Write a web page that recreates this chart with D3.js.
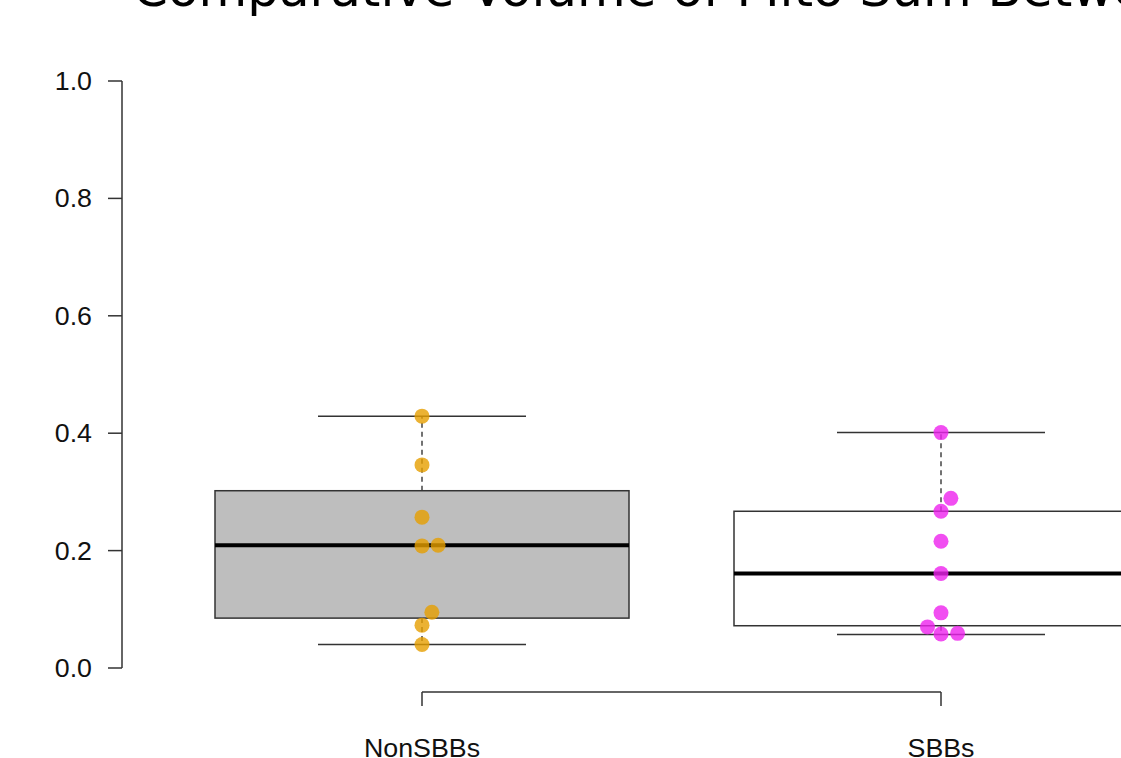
<!DOCTYPE html>
<html>
<head>
<meta charset="utf-8">
<script src="https://cdn.jsdelivr.net/npm/d3@7"></script>
<style>
  body { margin: 0; background: #fff; overflow: hidden; }
  svg { display: block; }
  .lab { font-family: "Liberation Sans", Arial, sans-serif; font-size: 26px; fill: #111; }
</style>
</head>
<body>
<div id="chart"></div>
<script>
// groups and their summary stats
var groups = ["NonSBBs", "SBBs"];
var boxFill = ["#bebebe", "#ffffff"];
var q1 = [0.085, 0.072];
var medians = [0.209, 0.161];
var q3 = [0.302, 0.267];
var whiskLow = [0.040, 0.057];
var whiskHigh = [0.429, 0.401];

// individual points: value and jittered x position (in group units)
var nonsbbVals = [0.429, 0.346, 0.257, 0.208, 0.209, 0.095, 0.073, 0.040];
var nonsbbPos  = [1.0, 1.0, 1.0, 1.0, 1.031, 1.019, 1.0, 1.0];
var sbbVals = [0.401, 0.289, 0.267, 0.216, 0.161, 0.094, 0.070, 0.058, 0.059];
var sbbPos  = [2.0, 2.019, 2.0, 2.0, 2.0, 2.0, 1.974, 2.0, 2.032];
var pointColors = ["#e69f00", "#ee22ee"];

var yTicks = [0, 0.2, 0.4, 0.6, 0.8, 1.0];
var title = "Comparative Volume of Mito Sum Between SBBs and NonSBBs";

var w = 1121, h = 758;

var svg = d3.select("#chart").append("svg")
  .attr("width", w)
  .attr("height", h);

var yScale = d3.scaleLinear().domain([0, 1]).range([668, 81]);
var xScale = d3.scaleLinear().domain([1, 2]).range([422, 941]);
var boxHalf = 207;   // px, half box width
var capHalf = 104;

// title, cut off at the top like the original
svg.append("text")
  .attr("x", 133)
  .attr("y", 6)
  .attr("font-family", "DejaVu Sans")
  .attr("font-size", 50)
  .attr("fill", "#000")
  .text(title);

// boxes
groups.forEach(function(g, i) {
  var cx = xScale(i + 1);
  // whiskers
  svg.append("line")
    .attr("x1", cx).attr("x2", cx)
    .attr("y1", yScale(q3[i])).attr("y2", yScale(whiskHigh[i]))
    .attr("stroke", "#444").attr("stroke-width", 1.5)
    .attr("stroke-dasharray", "5,4");
  svg.append("line")
    .attr("x1", cx).attr("x2", cx)
    .attr("y1", yScale(q1[i])).attr("y2", yScale(whiskLow[i]))
    .attr("stroke", "#444").attr("stroke-width", 1.5)
    .attr("stroke-dasharray", "5,4");
  [whiskHigh[i], whiskLow[i]].forEach(function(v) {
    svg.append("line")
      .attr("x1", cx - capHalf).attr("x2", cx + capHalf)
      .attr("y1", yScale(v)).attr("y2", yScale(v))
      .attr("stroke", "#333").attr("stroke-width", 1.5);
  });
  svg.append("rect")
    .attr("x", cx - boxHalf)
    .attr("y", yScale(q3[i]))
    .attr("width", boxHalf * 2)
    .attr("height", yScale(q1[i]) - yScale(q3[i]))
    .attr("fill", boxFill[i])
    .attr("stroke", "#333").attr("stroke-width", 1.5);
  svg.append("line")
    .attr("x1", cx - boxHalf).attr("x2", cx + boxHalf)
    .attr("y1", yScale(medians[i])).attr("y2", yScale(medians[i]))
    .attr("stroke", "#000").attr("stroke-width", 4);
});

// points
function drawPoints(vals, pos, col) {
  svg.append("g").selectAll("circle")
    .data(vals)
    .enter().append("circle")
    .attr("cx", function(d, j) { return xScale(pos[j]); })
    .attr("cy", function(d) { return yScale(d); })
    .attr("r", 7.5)
    .attr("fill", col)
    .attr("fill-opacity", 0.8);
}
drawPoints(nonsbbVals, nonsbbPos, pointColors[0]);
drawPoints(sbbVals, sbbPos, pointColors[1]);

// y axis
var yAxis = svg.append("g").attr("transform", "translate(122,0)");
yAxis.append("line")
  .attr("x1", 0).attr("x2", 0)
  .attr("y1", yScale(0)).attr("y2", yScale(1))
  .attr("stroke", "#333").attr("stroke-width", 1.5);
yTicks.forEach(function(t) {
  yAxis.append("line")
    .attr("x1", -14).attr("x2", 0)
    .attr("y1", yScale(t)).attr("y2", yScale(t))
    .attr("stroke", "#333").attr("stroke-width", 1.5);
  yAxis.append("text")
    .attr("class", "lab")
    .attr("text-anchor", "end")
    .attr("transform", "translate(-30," + (yScale(t) + 9) + ") scale(1.03,1)")
    .text(t.toFixed(1));
});

// x axis
var xAxis = svg.append("g").attr("transform", "translate(0,692)");
xAxis.append("line")
  .attr("x1", xScale(1)).attr("x2", xScale(2))
  .attr("y1", 0).attr("y2", 0)
  .attr("stroke", "#333").attr("stroke-width", 1.5);
groups.forEach(function(g, i) {
  xAxis.append("line")
    .attr("x1", xScale(i + 1)).attr("x2", xScale(i + 1))
    .attr("y1", 0).attr("y2", 14)
    .attr("stroke", "#333").attr("stroke-width", 1.5);
  xAxis.append("text")
    .attr("class", "lab")
    .attr("text-anchor", "middle")
    .attr("transform", "translate(" + xScale(i + 1) + ",65) scale(1.03,1)")
    .text(g);
});
</script>
</body>
</html>
